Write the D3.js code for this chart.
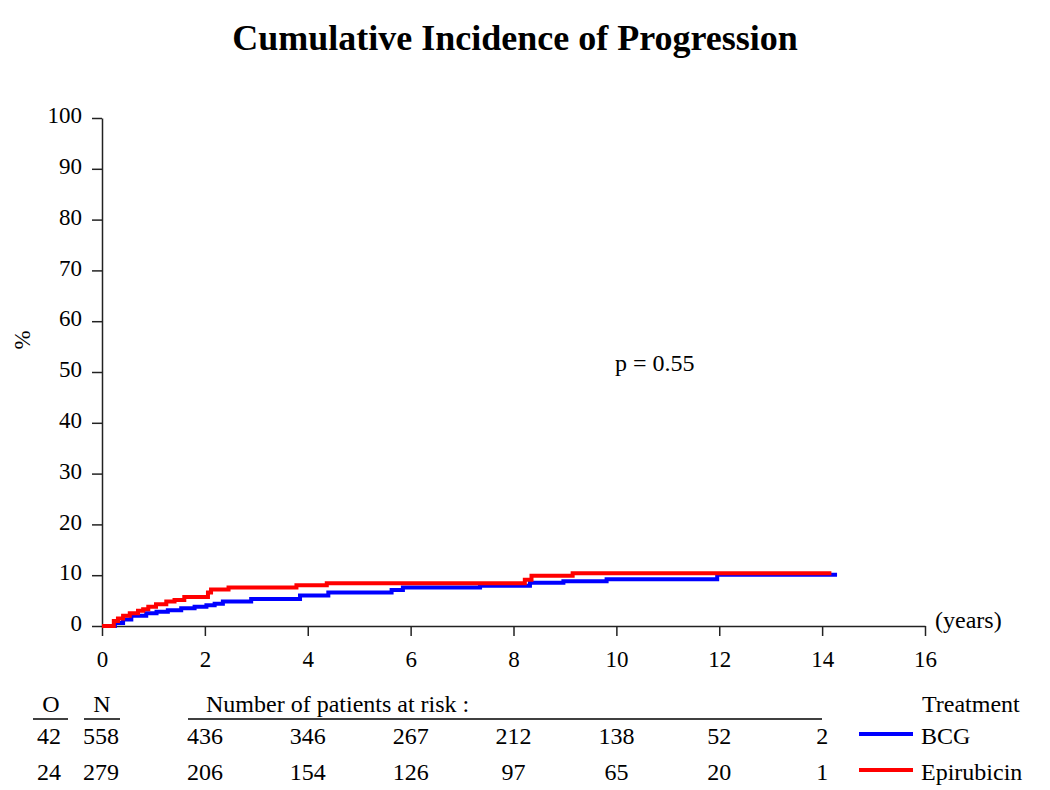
<!DOCTYPE html>
<html>
<head>
<meta charset="utf-8">
<script src="https://cdn.jsdelivr.net/npm/d3@7"></script>
<style>
  body { margin: 0; background: #fff; }
  text { font-family: "Liberation Serif", "Times New Roman", serif; fill: #000; }
</style>
</head>
<body>
<div id="chart"></div>
<script>
// step curves: [years, cumulative incidence %]
const bcgSteps = [
  [0, 0], [0.25, 0.6], [0.41, 1.3], [0.57, 2.0], [0.86, 2.5], [1.06, 2.8],
  [1.28, 3.1], [1.54, 3.5], [1.8, 3.8], [2.03, 4.1], [2.19, 4.4], [2.35, 4.8],
  [2.9, 5.3], [3.85, 6.0], [4.4, 6.6], [5.63, 7.1], [5.85, 7.6], [7.35, 7.9],
  [8.32, 8.5], [8.97, 8.8], [9.81, 9.2], [11.96, 10.1], [14.29, 10.1]
];
const epiSteps = [
  [0, 0], [0.23, 1.0], [0.31, 1.5], [0.41, 2.0], [0.54, 2.5], [0.7, 3.0],
  [0.8, 3.3], [0.9, 3.8], [1.05, 4.3], [1.25, 4.8], [1.41, 5.1], [1.6, 5.7],
  [2.06, 6.6], [2.12, 7.2], [2.46, 7.6], [3.78, 8.0], [4.37, 8.4], [8.22, 9.1],
  [8.35, 9.9], [9.15, 10.4], [14.18, 10.4]
];

const xTicks = [0, 2, 4, 6, 8, 10, 12, 14, 16];
const yTicks = [0, 10, 20, 30, 40, 50, 60, 70, 80, 90, 100];

const groups = ["BCG", "Epirubicin"];
const groupColors = ["#0000ff", "#ff0000"];
const observed = [42, 24];
const totals = [558, 279];
const riskTimes = [2, 4, 6, 8, 10, 12, 14];
const atRiskBCG = [436, 346, 267, 212, 138, 52, 2];
const atRiskEpi = [206, 154, 126, 97, 65, 20, 1];
const pValueText = "p = 0.55";

const width = 1050, height = 790;
const svg = d3.select("#chart").append("svg")
  .attr("width", width)
  .attr("height", height);

const x = d3.scaleLinear().domain([0, 16]).range([102, 925]);
const y = d3.scaleLinear().domain([0, 100]).range([626, 118]);
const fs = "24px";

// title
svg.append("text")
  .attr("x", 515).attr("y", 50)
  .attr("text-anchor", "middle")
  .style("font-size", "36px").style("font-weight", "bold")
  .text("Cumulative Incidence of Progression");

// axes
const yAxis = svg.append("g")
  .attr("transform", `translate(${x(0)},0)`)
  .call(d3.axisLeft(y).tickValues(yTicks).tickSize(10).tickSizeOuter(0).tickPadding(10));
yAxis.selectAll("text").style("font-size", "23px").attr("dy", "0.2em")
  .style("font-family", "Liberation Serif, serif");

const xAxis = svg.append("g")
  .attr("transform", `translate(0,${y(0)})`)
  .call(d3.axisBottom(x).tickValues(xTicks).tickSize(10).tickSizeOuter(0).tickPadding(15));
xAxis.selectAll("text").style("font-size", "23px")
  .style("font-family", "Liberation Serif, serif");

svg.selectAll(".domain, .tick line").attr("stroke", "#222").attr("stroke-width", 1.5);

svg.append("text")
  .attr("transform", "translate(30,340) rotate(-90)")
  .attr("text-anchor", "middle")
  .style("font-size", "23px")
  .text("%");

svg.append("text")
  .attr("x", 935).attr("y", 628)
  .style("font-size", fs)
  .text("(years)");

svg.append("text")
  .attr("x", 615).attr("y", 371)
  .style("font-size", fs)
  .text(pValueText);

// curves
const line = d3.line()
  .x(d => x(d[0]))
  .y(d => y(d[1]))
  .curve(d3.curveStepAfter);

[bcgSteps, epiSteps].forEach((s, i) => {
  svg.append("path")
    .datum(s)
    .attr("fill", "none")
    .attr("stroke", groupColors[i])
    .attr("stroke-width", 4)
    .attr("d", line);
});

// risk table
const headY = 712, rowY = [744, 780];

svg.append("text").attr("x", 51).attr("y", headY).attr("text-anchor", "middle")
  .style("font-size", fs).text("O");
svg.append("text").attr("x", 102).attr("y", headY).attr("text-anchor", "middle")
  .style("font-size", fs).text("N");
svg.append("text").attr("x", 206).attr("y", headY)
  .style("font-size", fs).text("Number of patients at risk :");
svg.append("text").attr("x", 922).attr("y", headY)
  .style("font-size", fs).text("Treatment");

[[33, 68], [84, 120], [188, 822]].forEach(r => {
  svg.append("line")
    .attr("x1", r[0]).attr("x2", r[1])
    .attr("y1", 719).attr("y2", 719)
    .attr("stroke", "#000").attr("stroke-width", 1.3);
});

[atRiskBCG, atRiskEpi].forEach((row, i) => {
  svg.append("text").attr("x", 49).attr("y", rowY[i]).attr("text-anchor", "middle")
    .style("font-size", fs).text(observed[i]);
  svg.append("text").attr("x", 101).attr("y", rowY[i]).attr("text-anchor", "middle")
    .style("font-size", fs).text(totals[i]);
  svg.append("g").selectAll("text")
    .data(row)
    .join("text")
    .attr("x", (d, j) => x(riskTimes[j]))
    .attr("y", rowY[i])
    .attr("text-anchor", "middle")
    .style("font-size", fs)
    .text(d => d);

  svg.append("line")
    .attr("x1", 859).attr("x2", 913)
    .attr("y1", rowY[i] - 10).attr("y2", rowY[i] - 10)
    .attr("stroke", groupColors[i]).attr("stroke-width", 4);
  svg.append("text").attr("x", 921).attr("y", rowY[i])
    .style("font-size", fs).text(groups[i]);
});
</script>
</body>
</html>
